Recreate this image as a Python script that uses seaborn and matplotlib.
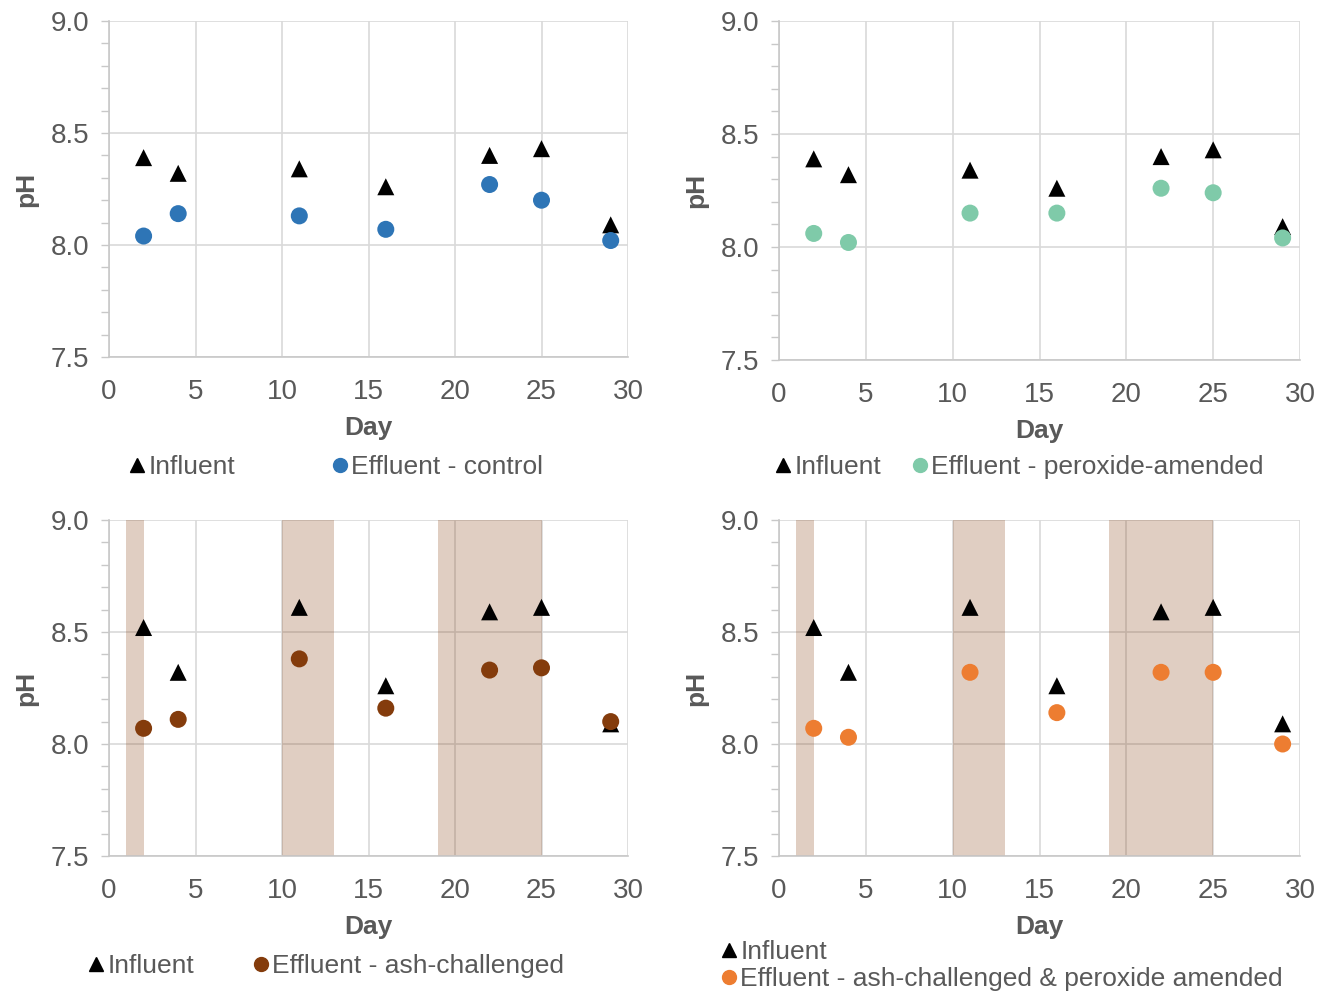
import numpy as np
import pandas as pd
import matplotlib
matplotlib.use("Agg")
import matplotlib.pyplot as plt
from matplotlib.lines import Line2D
import seaborn as sns

# ---- data ----
days = [2, 4, 11, 16, 22, 25, 29]
influent_top = [8.39, 8.32, 8.34, 8.26, 8.40, 8.43, 8.09]
influent_bottom = [8.52, 8.32, 8.61, 8.26, 8.59, 8.61, 8.09]
eff_control = [8.04, 8.14, 8.13, 8.07, 8.27, 8.20, 8.02]
eff_peroxide = [8.06, 8.02, 8.15, 8.15, 8.26, 8.24, 8.04]
eff_ash = [8.07, 8.11, 8.38, 8.16, 8.33, 8.34, 8.10]
eff_ash_perox = [8.07, 8.03, 8.32, 8.14, 8.32, 8.32, 8.00]
ash_start = [1, 10, 19]
ash_end = [2, 13, 25]
x_ticks = [0, 5, 10, 15, 20, 25, 30]
y_ticks = [7.5, 8.0, 8.5, 9.0]
y_ticklabels = ["7.5", "8.0", "8.5", "9.0"]

labels = ["Effluent - control", "Effluent - peroxide-amended",
          "Effluent - ash-challenged", "Effluent - ash-challenged & peroxide amended"]
colors = ["#2e75b6", "#7fcaa9", "#843c0c", "#ed7d31"]

sns.set_theme(style="white")
plt.rcParams['font.family'] = ['Liberation Sans', 'DejaVu Sans']

fig = plt.figure(figsize=(13.2, 9.93), dpi=100)
W, H = 1320, 993
boxes = [(109, 628, 21, 357), (779, 1300, 21, 360), (109, 628, 520, 856), (779, 1300, 520, 856)]
# legend entry anchors (left px, center y px) for influent, effluent
leg_pos = [((130, 467), (333, 467)),
           ((776, 467), (913, 467)),
           ((89, 966), (254, 966)),
           ((722, 952), (722, 979))]

panels = [
    (influent_top, eff_control, False),
    (influent_top, eff_peroxide, False),
    (influent_bottom, eff_ash, True),
    (influent_bottom, eff_ash_perox, True),
]

txt = "#595959"
grid_c = "#d9d9d9"
FS_TICK = 20
FS_LAB = 19
FS_LEG = 19

for i, ((x0, x1, yt, yb), (infl, eff, shade)) in enumerate(zip(boxes, panels)):
    ax = fig.add_axes([x0 / W, 1 - yb / H, (x1 - x0) / W, (yb - yt) / H])
    df = pd.DataFrame({"Day": days + days,
                       "pH": infl + eff,
                       "Series": ["Influent"] * len(days) + [labels[i]] * len(days)})
    if shade:
        for s, e in zip(ash_start, ash_end):
            ax.axvspan(s, e, color="#843c0c", alpha=0.25, lw=0, zorder=1)
    sns.scatterplot(data=df[df.Series == "Influent"], x="Day", y="pH", marker="^",
                    color="black", s=150, edgecolor="none", ax=ax, zorder=3, legend=False)
    sns.scatterplot(data=df[df.Series == labels[i]], x="Day", y="pH", marker="o",
                    color=colors[i], s=150, edgecolor="none", ax=ax, zorder=4, legend=False)
    ax.set_xlim(0, 30)
    ax.set_ylim(7.5, 9.0)
    ax.set_xticks(x_ticks)
    ax.set_yticks(y_ticks)
    ax.set_yticks(np.arange(7.5, 9.0, 0.1), minor=True)
    ax.set_yticklabels(y_ticklabels)
    ax.set_axisbelow(True)
    ax.grid(True, which="major", color=grid_c, lw=1.2, zorder=0)
    for sp in ["top", "right"]:
        ax.spines[sp].set_visible(False)
    for sp in ["left", "bottom"]:
        ax.spines[sp].set_color("#c8c8c8")
        ax.spines[sp].set_linewidth(1.2)
    ax.tick_params(axis="y", which="both", left=True, direction="out", length=6,
                   color="#c8c8c8", width=1.0, labelsize=FS_TICK, labelcolor=txt, pad=8)
    ax.tick_params(axis="x", bottom=False, labelsize=FS_TICK, labelcolor=txt, pad=10)
    ax.set_xlabel("Day", fontsize=FS_LAB, fontweight="bold", color=txt, labelpad=8)
    ax.set_ylabel("pH", fontsize=FS_LAB, fontweight="bold", color=txt, labelpad=9)

    handles = [Line2D([], [], marker="^", color="black", ls="none", markersize=10),
               Line2D([], [], marker="o", color=colors[i], ls="none", markersize=10)]
    names = ["Influent", labels[i]]
    for j in range(2):
        lx, ly = leg_pos[i][j]
        leg = fig.legend([handles[j]], [names[j]], loc="center left",
                         bbox_to_anchor=(lx / W, 1 - ly / H), bbox_transform=fig.transFigure,
                         frameon=False, fontsize=FS_LEG, handletextpad=0.2,
                         handlelength=0.5, borderpad=0, borderaxespad=0)
        for t in leg.get_texts():
            t.set_color(txt)

fig.savefig("out.png", dpi=100)
